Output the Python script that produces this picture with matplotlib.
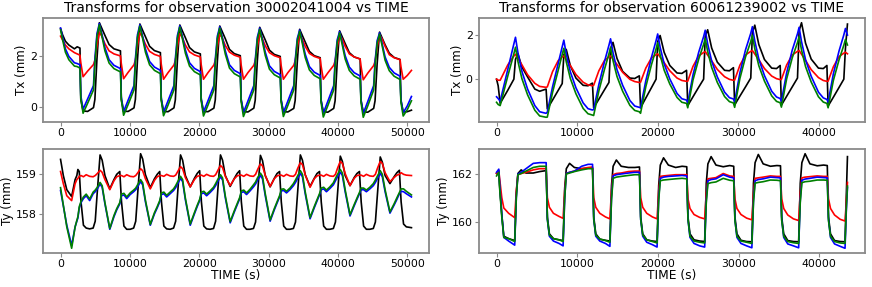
import matplotlib
matplotlib.use("Agg")
import matplotlib.pyplot as plt

# ---------------- observation ids / labels ----------------
obs_left = "30002041004"
obs_right = "60061239002"
xticks_left = [0, 10000, 20000, 30000, 40000, 50000]
xticks_right = [0, 10000, 20000, 30000, 40000]
yticks_tl = [0, 2]
yticks_tr = [0, 2]
yticks_bl = [158, 159]
yticks_br = [160, 162]

# ---------------- top-left: Tx, obs 30002041004 ----------------
tl_time = [0, 300, 700, 1200, 2000, 2400,
           2800, 2920, 3250, 3900, 4750, 4950, 5250, 5600, 5950, 6400, 7000, 7700,
           8640, 8760, 9090, 9740, 10590, 10790, 11090, 11440, 11790, 12240, 12840, 13540,
           14400, 14520, 14850, 15500, 16350, 16550, 16850, 17200, 17550, 18000, 18600, 19300,
           20160, 20280, 20610, 21260, 22110, 22310, 22610, 22960, 23310, 23760, 24360, 25060,
           25920, 26040, 26370, 27020, 27870, 28070, 28370, 28720, 29070, 29520, 30120, 30820,
           31680, 31800, 32130, 32780, 33630, 33830, 34130, 34480, 34830, 35280, 35880, 36580,
           37440, 37560, 37890, 38540, 39390, 39590, 39890, 40240, 40590, 41040, 41640, 42340,
           43200, 43320, 43650, 44300, 45150, 45350, 45650, 46000, 46350, 46800, 47400, 48100,
           48960, 49080, 49410, 50000, 50600]
tl_black = [3.1, 2.85, 2.6, 2.45, 2.3, 2.38,
            2.33, 0.3, -0.15, -0.17, -0.02, 0.3, 1.9, 3.33, 3.11, 2.83, 2.47, 2.3,
            2.22, 0.3, -0.16, -0.17, -0.03, 0.3, 1.85, 3.28, 3.06, 2.78, 2.4, 2.23,
            2.15, 0.3, -0.17, -0.18, -0.03, 0.28, 1.85, 3.24, 3.02, 2.74, 2.35, 2.18,
            2.1, 0.3, -0.17, -0.18, -0.04, 0.28, 1.8, 3.2, 2.98, 2.7, 2.28, 2.11,
            2.03, 0.28, -0.18, -0.19, -0.04, 0.27, 1.8, 3.15, 2.93, 2.65, 2.25, 2.08,
            2.0, 0.28, -0.18, -0.19, -0.05, 0.26, 1.75, 3.07, 2.85, 2.57, 2.2, 2.03,
            1.95, 0.27, -0.18, -0.2, -0.05, 0.25, 1.75, 3.01, 2.79, 2.51, 2.15, 1.98,
            1.9, 0.27, -0.19, -0.2, -0.05, 0.25, 1.7, 2.96, 2.74, 2.46, 2.13, 1.96,
            1.88, 0.27, -0.19, -0.18, -0.12]
tl_red = [2.8, 2.65, 2.45, 2.3, 2.15, 2.1,
          2.05, 1.75, 1.2, 1.42, 1.68, 1.85, 2.4, 2.95, 2.8, 2.5, 2.22, 2.1,
          2.02, 1.72, 1.12, 1.37, 1.67, 1.85, 2.4, 2.93, 2.78, 2.48, 2.2, 2.08,
          2.0, 1.7, 1.1, 1.36, 1.66, 1.83, 2.38, 2.9, 2.75, 2.45, 2.18, 2.06,
          1.98, 1.68, 1.1, 1.36, 1.66, 1.83, 2.37, 2.88, 2.73, 2.43, 2.17, 2.05,
          1.97, 1.67, 1.1, 1.36, 1.65, 1.82, 2.36, 2.87, 2.72, 2.42, 2.15, 2.03,
          1.95, 1.66, 1.1, 1.36, 1.65, 1.82, 2.35, 2.85, 2.7, 2.4, 2.12, 2.0,
          1.92, 1.64, 1.1, 1.35, 1.65, 1.82, 2.35, 2.85, 2.7, 2.4, 2.1, 1.98,
          1.9, 1.63, 1.08, 1.34, 1.64, 1.8, 2.35, 2.85, 2.7, 2.4, 2.07, 1.95,
          1.87, 1.6, 1.1, 1.25, 1.45]
tl_blue = [3.12, 2.75, 2.3, 2.0, 1.75, 1.72,
           1.67, 0.45, -0.08, 0.32, 0.85, 1.9, 2.9, 3.3, 2.9, 2.35, 1.87, 1.65,
           1.52, 0.4, -0.18, 0.27, 0.85, 1.9, 2.85, 3.25, 2.85, 2.3, 1.8, 1.58,
           1.45, 0.38, -0.2, 0.25, 0.85, 1.9, 2.82, 3.21, 2.81, 2.26, 1.75, 1.53,
           1.4, 0.36, -0.2, 0.25, 0.85, 1.88, 2.8, 3.17, 2.77, 2.22, 1.67, 1.45,
           1.32, 0.33, -0.22, 0.24, 0.85, 1.85, 2.75, 3.12, 2.72, 2.17, 1.63, 1.41,
           1.28, 0.32, -0.22, 0.24, 0.85, 1.83, 2.7, 3.04, 2.64, 2.09, 1.6, 1.38,
           1.25, 0.3, -0.24, 0.23, 0.85, 1.8, 2.65, 2.98, 2.58, 2.03, 1.58, 1.36,
           1.23, 0.3, -0.25, 0.22, 0.85, 1.8, 2.62, 2.93, 2.53, 1.98, 1.57, 1.35,
           1.22, 0.3, -0.22, 0.05, 0.42]
tl_green = [3.05, 2.65, 2.17, 1.87, 1.62, 1.6,
            1.54, 0.35, -0.24, 0.15, 0.68, 1.7, 2.8, 3.25, 2.82, 2.22, 1.74, 1.52,
            1.39, 0.3, -0.32, 0.1, 0.68, 1.7, 2.75, 3.2, 2.77, 2.17, 1.67, 1.45,
            1.32, 0.28, -0.34, 0.08, 0.68, 1.7, 2.72, 3.16, 2.73, 2.13, 1.62, 1.4,
            1.27, 0.26, -0.35, 0.08, 0.68, 1.68, 2.7, 3.12, 2.69, 2.09, 1.54, 1.32,
            1.19, 0.23, -0.37, 0.07, 0.68, 1.65, 2.65, 3.07, 2.64, 2.04, 1.5, 1.28,
            1.15, 0.22, -0.37, 0.07, 0.68, 1.63, 2.6, 2.99, 2.56, 1.96, 1.47, 1.25,
            1.12, 0.2, -0.39, 0.06, 0.68, 1.6, 2.55, 2.93, 2.5, 1.9, 1.45, 1.23,
            1.1, 0.2, -0.4, 0.05, 0.68, 1.6, 2.52, 2.88, 2.45, 1.85, 1.44, 1.22,
            1.09, 0.2, -0.35, -0.1, 0.25]

# ---------------- top-right: Tx, obs 60061239002 ----------------
tr_time = [0, 200, 450, 1400,
           2150, 2350, 2650, 3150, 3850, 4750, 5350, 6150, 6300, 6950, 7650,
           8150, 8350, 8650, 9150, 9850, 10750, 11350, 11900, 12050, 12700, 13400,
           13950, 14150, 14450, 14950, 15650, 16550, 17150, 17720, 17870, 18520, 19220,
           19800, 20000, 20300, 20800, 21500, 22400, 23000, 23580, 23730, 24380, 25080,
           25700, 25900, 26200, 26700, 27400, 28300, 28900, 29400, 29550, 30200, 30900,
           31550, 31750, 32050, 32550, 33250, 34150, 34750, 35200, 35350, 36000, 36700,
           37350, 37550, 37850, 38350, 39050, 39950, 40550, 41000, 41150, 41800, 42500,
           43100, 43300, 43550]
tr_black = [0.0, -0.3, -1.1, -0.5,
            0.0, 0.9, 1.15, 0.55, 0.1, -0.45, -0.55, -0.45, -1.35, -0.95, -0.51,
            -0.2, 1.1, 1.35, 0.62, 0.05, -0.28, -0.3, -0.18, -1.3, -0.91, -0.48,
            -0.15, 1.4, 1.67, 0.94, 0.35, 0.05, 0.03, 0.15, -1.3, -0.86, -0.39,
            0.0, 1.7, 1.98, 1.22, 0.62, 0.28, 0.26, 0.4, -1.2, -0.8, -0.37,
            0.0, 1.95, 2.24, 1.41, 0.77, 0.4, 0.38, 0.52, -1.17, -0.77, -0.35,
            0.05, 2.1, 2.45, 1.57, 0.89, 0.5, 0.48, 0.62, -1.18, -0.78, -0.35,
            0.05, 2.2, 2.56, 1.63, 0.91, 0.5, 0.48, 0.62, -1.22, -0.82, -0.38,
            0.0, 1.4, 2.5]
tr_red = [0.0, -0.05, -0.05, 0.65,
          1.05, 1.13, 0.95, 0.65, 0.2, -0.19, -0.33, -0.37, -0.35, 0.34, 0.84,
          1.01, 1.05, 0.89, 0.62, 0.21, -0.14, -0.26, -0.3, -0.28, 0.38, 0.85,
          1.01, 1.05, 0.91, 0.67, 0.31, -0.01, -0.11, -0.15, -0.14, 0.5, 0.96,
          1.11, 1.15, 1.0, 0.75, 0.38, 0.05, -0.06, -0.1, -0.09, 0.58, 1.05,
          1.21, 1.25, 1.09, 0.83, 0.44, 0.11, -0.01, -0.05, -0.04, 0.63, 1.1,
          1.26, 1.3, 1.14, 0.88, 0.48, 0.14, 0.02, -0.02, -0.01, 0.64, 1.1,
          1.26, 1.3, 1.13, 0.85, 0.43, 0.07, -0.06, -0.1, -0.09, 0.56, 1.02,
          1.18, 1.22, 1.15]
tr_blue = [-0.8, -0.88, -1.0, 0.45,
           1.6, 1.9, 1.21, 0.35, -0.45, -1.2, -1.48, -1.55, -1.5, -0.35, 0.71,
           1.47, 1.77, 1.14, 0.34, -0.39, -1.08, -1.34, -1.4, -1.38, -0.24, 0.8,
           1.54, 1.83, 1.21, 0.43, -0.28, -0.97, -1.22, -1.28, -1.3, -0.08, 0.98,
           1.75, 2.05, 1.45, 0.7, 0.01, -0.65, -0.89, -0.95, -1.08, 0.19, 1.21,
           1.93, 2.22, 1.6, 0.82, 0.1, -0.59, -0.84, -0.9, -1.03, 0.28, 1.33,
           2.08, 2.38, 1.73, 0.91, 0.16, -0.55, -0.81, -0.88, -1.0, 0.28, 1.32,
           2.06, 2.35, 1.7, 0.88, 0.13, -0.59, -0.85, -0.92, -1.05, 0.24, 1.27,
           2.01, 2.3, 2.0]
tr_green = [-1.05, -1.15, -1.2, 0.15,
            1.15, 1.45, 0.81, 0.02, -0.71, -1.41, -1.67, -1.73, -1.72, -0.6, 0.4,
            1.12, 1.4, 0.79, 0.04, -0.66, -1.33, -1.57, -1.63, -1.65, -0.53, 0.45,
            1.15, 1.43, 0.85, 0.12, -0.55, -1.19, -1.42, -1.48, -1.55, -0.35, 0.65,
            1.37, 1.65, 1.1, 0.41, -0.22, -0.83, -1.05, -1.1, -1.3, -0.04, 0.9,
            1.58, 1.84, 1.26, 0.53, -0.15, -0.79, -1.02, -1.08, -1.28, 0.03, 1.01,
            1.71, 1.99, 1.38, 0.61, -0.09, -0.76, -1.01, -1.07, -1.27, 0.01, 0.97,
            1.66, 1.93, 1.32, 0.57, -0.13, -0.8, -1.04, -1.1, -1.3, -0.06, 0.87,
            1.54, 1.8, 1.55]

# ---------------- bottom-left: Ty, obs 30002041004 ----------------
bl_time = [0, 400, 900, 1600, 2100, 2350, 2500,
           2700, 2950, 3300, 3700, 4200, 4700, 5000, 5300, 5700, 6000, 6400, 7100, 7700, 8100,
           8540, 8790, 9140, 9540, 10040, 10540, 10840, 11140, 11540, 11840, 12240, 12940, 13540, 13940,
           14300, 14550, 14900, 15300, 15800, 16300, 16600, 16900, 17300, 17600, 18000, 18700, 19300, 19700,
           20060, 20310, 20660, 21060, 21560, 22060, 22360, 22660, 23060, 23360, 23760, 24460, 25060, 25460,
           25820, 26070, 26420, 26820, 27320, 27820, 28120, 28420, 28820, 29120, 29520, 30220, 30820, 31220,
           31580, 31830, 32180, 32580, 33080, 33580, 33880, 34180, 34580, 34880, 35280, 35980, 36580, 36980,
           37340, 37590, 37940, 38340, 38840, 39340, 39640, 39940, 40340, 40640, 41040, 41740, 42340, 42740,
           43100, 43350, 43700, 44100, 44600, 45100, 45400, 45700, 46100, 46400, 46800, 47500, 48100, 48500,
           48860, 49110, 49460, 49860, 50600]
bl_black = [159.35, 158.95, 158.6, 158.43, 158.85, 158.95, 159.1,
            159.05, 158.3, 157.72, 157.65, 157.63, 157.65, 157.82, 158.55, 159.46, 159.33, 158.95, 158.62, 158.85, 158.98,
            159.05, 158.3, 157.7, 157.62, 157.62, 157.65, 157.82, 158.55, 159.49, 159.36, 158.97, 158.65, 158.87, 158.98,
            159.05, 158.3, 157.7, 157.63, 157.62, 157.65, 157.82, 158.55, 159.46, 159.33, 158.95, 158.67, 158.88, 159.0,
            159.07, 158.3, 157.7, 157.63, 157.62, 157.64, 157.82, 158.55, 159.46, 159.33, 158.95, 158.68, 158.88, 159.0,
            159.07, 158.3, 157.7, 157.62, 157.62, 157.64, 157.8, 158.52, 159.45, 159.32, 158.95, 158.67, 158.88, 159.0,
            159.05, 158.3, 157.7, 157.62, 157.62, 157.64, 157.8, 158.52, 159.46, 159.33, 158.97, 158.68, 158.88, 159.0,
            159.05, 158.3, 157.7, 157.62, 157.62, 157.64, 157.8, 158.5, 159.43, 159.3, 158.95, 158.7, 158.9, 159.0,
            159.05, 158.3, 157.7, 157.62, 157.62, 157.64, 157.8, 158.5, 159.41, 159.28, 158.95, 158.75, 158.92, 159.02,
            159.08, 158.3, 157.75, 157.68, 157.66]
bl_red = [159.05, 158.75, 158.45, 158.33, 158.75, 158.85, 158.88,
          158.93, 158.95, 158.92, 158.97, 158.93, 158.92, 158.95, 159.0, 159.08, 159.03, 158.85, 158.6, 158.82, 158.92,
          158.95, 158.95, 158.92, 158.97, 158.93, 158.92, 158.95, 159.02, 159.12, 159.07, 158.87, 158.62, 158.83, 158.92,
          158.95, 158.95, 158.93, 158.98, 158.94, 158.93, 158.96, 159.05, 159.17, 159.12, 158.9, 158.67, 158.85, 158.93,
          158.95, 158.96, 158.93, 158.98, 158.94, 158.93, 158.97, 159.07, 159.2, 159.15, 158.93, 158.7, 158.87, 158.94,
          158.96, 158.96, 158.93, 158.98, 158.94, 158.93, 158.98, 159.1, 159.24, 159.19, 158.95, 158.68, 158.87, 158.94,
          158.96, 158.96, 158.93, 158.98, 158.94, 158.93, 158.98, 159.12, 159.27, 159.22, 158.97, 158.66, 158.87, 158.94,
          158.96, 158.96, 158.93, 158.98, 158.94, 158.93, 158.98, 159.13, 159.3, 159.25, 159.0, 158.7, 158.88, 158.95,
          158.96, 158.96, 158.93, 158.98, 158.94, 158.93, 158.98, 159.13, 159.3, 159.25, 159.02, 158.8, 158.9, 158.96,
          158.98, 159.02, 158.98, 158.96, 158.95]
bl_blue = [158.58, 158.2, 157.72, 157.22, 157.68, 157.82, 157.9,
           158.15, 158.28, 158.38, 158.45, 158.33, 158.5, 158.55, 158.62, 158.74, 158.66, 158.25, 157.62, 157.93, 158.1,
           158.25, 158.45, 158.47, 158.38, 158.48, 158.55, 158.6, 158.68, 158.8, 158.72, 158.3, 157.72, 158.0, 158.15,
           158.3, 158.48, 158.5, 158.42, 158.5, 158.58, 158.65, 158.75, 158.88, 158.8, 158.35, 157.72, 158.0, 158.18,
           158.33, 158.5, 158.52, 158.45, 158.53, 158.62, 158.7, 158.8, 158.92, 158.84, 158.4, 157.78, 158.05, 158.22,
           158.37, 158.53, 158.55, 158.48, 158.57, 158.67, 158.74, 158.84, 158.95, 158.87, 158.45, 157.82, 158.1, 158.27,
           158.42, 158.57, 158.58, 158.52, 158.6, 158.7, 158.78, 158.88, 159.0, 158.92, 158.5, 157.88, 158.15, 158.32,
           158.47, 158.6, 158.62, 158.55, 158.63, 158.72, 158.82, 158.92, 159.03, 158.95, 158.55, 157.95, 158.2, 158.36,
           158.5, 158.6, 158.6, 158.55, 158.62, 158.7, 158.78, 158.88, 159.0, 158.92, 158.55, 158.02, 158.22, 158.36,
           158.5, 158.56, 158.55, 158.5, 158.42]
bl_green = [158.65, 158.22, 157.68, 157.15, 157.68, 157.84, 157.93,
            158.18, 158.31, 158.42, 158.49, 158.37, 158.54, 158.59, 158.66, 158.78, 158.7, 158.28, 157.64, 157.96, 158.13,
            158.28, 158.49, 158.51, 158.42, 158.52, 158.59, 158.64, 158.73, 158.85, 158.77, 158.34, 157.74, 158.03, 158.18,
            158.33, 158.52, 158.54, 158.46, 158.54, 158.62, 158.7, 158.8, 158.93, 158.85, 158.39, 157.75, 158.03, 158.21,
            158.36, 158.54, 158.56, 158.49, 158.57, 158.66, 158.75, 158.85, 158.97, 158.89, 158.44, 157.81, 158.08, 158.25,
            158.4, 158.57, 158.59, 158.52, 158.61, 158.72, 158.79, 158.9, 159.01, 158.93, 158.5, 157.85, 158.13, 158.3,
            158.45, 158.61, 158.62, 158.56, 158.64, 158.75, 158.84, 158.94, 159.07, 158.98, 158.55, 157.91, 158.18, 158.35,
            158.5, 158.64, 158.66, 158.59, 158.67, 158.77, 158.88, 158.98, 159.1, 159.01, 158.6, 157.98, 158.23, 158.39,
            158.53, 158.64, 158.64, 158.59, 158.66, 158.75, 158.84, 158.94, 159.07, 158.98, 158.6, 158.05, 158.25, 158.4,
            158.53, 158.62, 158.62, 158.56, 158.47]

# ---------------- bottom-right: Ty, obs 60061239002 ----------------
br_time = [0, 280, 380, 650, 900, 1500,
           2250, 2450, 2650, 3050, 3650, 4550, 5350, 6150, 6300, 6550, 7050, 7750,
           8250, 8450, 8650, 9050, 9650, 10550, 11350, 11900, 12050, 12300, 12800, 13500,
           14050, 14250, 14450, 14850, 15450, 16350, 17150, 17720, 17870, 18120, 18620, 19320,
           19900, 20100, 20300, 20700, 21300, 22200, 23000, 23580, 23730, 23980, 24480, 25180,
           25800, 26000, 26200, 26600, 27200, 28100, 28900, 29400, 29550, 29800, 30300, 31000,
           31650, 31850, 32050, 32450, 33050, 33950, 34750, 35200, 35350, 35600, 36100, 36800,
           37450, 37650, 37850, 38250, 38850, 39750, 40550, 41000, 41150, 41400, 41900, 42600,
           43200, 43350, 43500]
br_black = [162.0, 162.1, 161.5, 160.3, 159.4, 159.3,
            159.22, 161.2, 162.0, 162.15, 162.02, 162.02, 162.08, 162.12, 160.2, 159.5, 159.3, 159.25,
            159.22, 161.4, 162.2, 162.42, 162.25, 162.2, 162.22, 162.22, 160.2, 159.5, 159.28, 159.23,
            159.2, 161.5, 162.3, 162.56, 162.3, 162.25, 162.25, 162.27, 160.2, 159.5, 159.25, 159.2,
            159.18, 161.5, 162.35, 162.65, 162.35, 162.25, 162.3, 162.28, 160.2, 159.5, 159.25, 159.2,
            159.18, 161.6, 162.4, 162.7, 162.35, 162.28, 162.33, 162.3, 160.2, 159.5, 159.23, 159.18,
            159.17, 161.6, 162.45, 162.79, 162.4, 162.3, 162.33, 162.32, 160.2, 159.5, 159.22, 159.18,
            159.17, 161.6, 162.45, 162.82, 162.4, 162.32, 162.35, 162.33, 160.2, 159.5, 159.22, 159.18,
            159.17, 161.0, 162.7]
br_red = [162.0, 162.12, 161.8, 161.0, 160.57, 160.35,
          160.17, 161.3, 161.95, 162.0, 162.05, 162.15, 162.2, 162.2, 161.0, 160.6, 160.35, 160.22,
          160.14, 161.3, 162.0, 162.05, 162.1, 162.2, 162.25, 162.27, 161.0, 160.6, 160.35, 160.2,
          160.12, 161.3, 161.95, 162.0, 162.02, 162.08, 162.1, 162.1, 161.0, 160.6, 160.35, 160.2,
          160.12, 161.3, 161.88, 161.9, 161.92, 161.95, 161.95, 161.95, 160.95, 160.55, 160.3, 160.18,
          160.12, 161.2, 161.78, 161.8, 161.83, 162.0, 161.9, 161.88, 160.95, 160.55, 160.3, 160.15,
          160.08, 161.2, 161.8, 161.82, 161.85, 161.9, 161.88, 161.88, 160.95, 160.55, 160.28, 160.12,
          160.05, 161.2, 161.82, 161.85, 161.87, 161.9, 161.88, 161.88, 160.95, 160.55, 160.28, 160.1,
          160.03, 160.8, 161.63]
br_blue = [162.05, 162.18, 161.6, 160.3, 159.35, 159.2,
           159.03, 161.0, 161.98, 162.05, 162.2, 162.42, 162.45, 162.45, 160.1, 159.4, 159.2, 159.1,
           159.0, 161.0, 162.0, 162.05, 162.1, 162.3, 162.38, 162.38, 160.1, 159.4, 159.2, 159.1,
           158.98, 161.0, 161.9, 161.95, 161.98, 162.02, 162.05, 162.05, 160.1, 159.4, 159.15, 159.05,
           158.95, 161.0, 161.8, 161.85, 161.88, 161.9, 161.92, 161.9, 160.1, 159.35, 159.1, 159.0,
           158.95, 160.9, 161.7, 161.75, 161.78, 161.95, 161.85, 161.82, 160.1, 159.35, 159.1, 159.0,
           158.92, 160.9, 161.7, 161.75, 161.78, 161.85, 161.83, 161.82, 160.1, 159.35, 159.08, 159.0,
           158.92, 160.9, 161.72, 161.77, 161.8, 161.85, 161.83, 161.82, 160.1, 159.35, 159.08, 158.98,
           158.9, 160.4, 161.42]
br_green = [161.9, 162.05, 161.4, 160.2, 159.35, 159.3,
            159.18, 161.0, 161.95, 162.0, 162.1, 162.25, 162.3, 162.3, 160.1, 159.45, 159.3, 159.25,
            159.18, 161.0, 161.98, 162.02, 162.08, 162.15, 162.2, 162.2, 160.1, 159.45, 159.28, 159.22,
            159.15, 160.9, 161.8, 161.85, 161.88, 161.92, 161.95, 161.95, 160.1, 159.45, 159.25, 159.18,
            159.12, 160.9, 161.7, 161.73, 161.75, 161.78, 161.8, 161.78, 160.1, 159.4, 159.2, 159.15,
            159.12, 160.8, 161.58, 161.62, 161.65, 161.8, 161.72, 161.7, 160.05, 159.4, 159.2, 159.15,
            159.1, 160.8, 161.6, 161.63, 161.66, 161.73, 161.72, 161.7, 160.05, 159.4, 159.18, 159.13,
            159.1, 160.8, 161.62, 161.66, 161.68, 161.73, 161.73, 161.72, 160.05, 159.4, 159.18, 159.12,
            159.1, 160.5, 161.48]

# ---------------- drawing ----------------
SPINE = "#8a8a8a"

fig = plt.figure(figsize=(8.72, 2.87), dpi=100)
ax_tl = fig.add_axes([43 / 872, 1 - 122 / 287, 386 / 872, 104 / 287])
ax_tr = fig.add_axes([479 / 872, 1 - 122 / 287, 386 / 872, 104 / 287])
ax_bl = fig.add_axes([43 / 872, 1 - 253 / 287, 386 / 872, 104 / 287])
ax_br = fig.add_axes([479 / 872, 1 - 253 / 287, 386 / 872, 104 / 287])

panels = [
    (ax_tl, tl_time, tl_black, tl_red, tl_blue, tl_green, xticks_left, yticks_tl, "Tx (mm)"),
    (ax_tr, tr_time, tr_black, tr_red, tr_blue, tr_green, xticks_right, yticks_tr, "Tx (mm)"),
    (ax_bl, bl_time, bl_black, bl_red, bl_blue, bl_green, xticks_left, yticks_bl, "Ty (mm)"),
    (ax_br, br_time, br_black, br_red, br_blue, br_green, xticks_right, yticks_br, "Ty (mm)"),
]

for ax, t, k, r, b, g, xt, yt, ylab in panels:
    ax.plot(t, k, color="black", lw=1.2)
    ax.plot(t, r, color="red", lw=1.2)
    ax.plot(t, b, color="blue", lw=1.2)
    ax.plot(t, g, color="green", lw=1.2)
    ax.set_xticks(xt)
    ax.set_xticklabels([str(v) for v in xt])
    ax.set_yticks(yt)
    ax.set_yticklabels([str(v) for v in yt])
    ax.set_ylabel(ylab, fontsize=8.6, labelpad=1.5)
    ax.tick_params(axis="x", labelsize=7.8, length=3, width=0.8, color=SPINE, pad=1.5)
    ax.tick_params(axis="y", labelsize=7.9, length=3, width=0.8, color=SPINE, pad=1.5)
    for s in ax.spines.values():
        s.set_color(SPINE)
        s.set_linewidth(1.3)

ax_tl.set_title("Transforms for observation " + obs_left + " vs TIME", fontsize=10, pad=4)
ax_tr.set_title("Transforms for observation " + obs_right + " vs TIME", fontsize=10, pad=4)
ax_bl.set_xlabel("TIME (s)", fontsize=8.8, labelpad=0)
ax_br.set_xlabel("TIME (s)", fontsize=8.8, labelpad=0)

fig.savefig("out.png", dpi=100)
